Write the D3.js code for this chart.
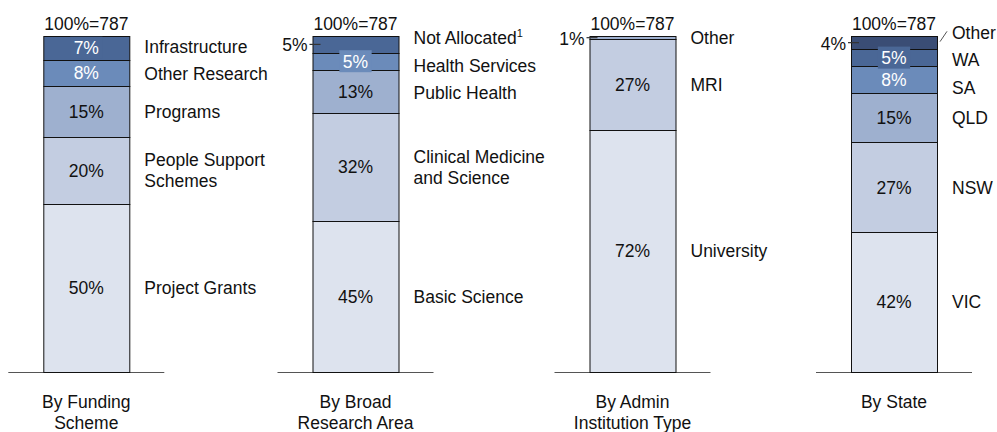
<!DOCTYPE html>
<html>
<head>
<meta charset="utf-8">
<script src="https://cdn.jsdelivr.net/npm/d3@7"></script>
<style>
	body { margin: 0; background: #fff; }
	text { font-family: "Liberation Sans", Arial, sans-serif; font-size: 17.5px; fill: #111; }
</style>
</head>
<body>
<script>
// chart data
var panelTitles = ['By Funding\nScheme', 'By Broad\nResearch Area', 'By Admin\nInstitution Type', 'By State'];
var panelTotals = [787, 787, 787, 787];

// segments listed bottom to top
var fundingLabels = ['Project Grants', 'People Support\nSchemes', 'Programs', 'Other Research', 'Infrastructure'];
var fundingValues = [50, 20, 15, 8, 7];

var areaLabels = ['Basic Science', 'Clinical Medicine\nand Science', 'Public Health', 'Health Services', 'Not Allocated¹'];
var areaValues = [45, 32, 13, 5, 5];

var institutionLabels = ['University', 'MRI', 'Other'];
var institutionValues = [72, 27, 1];

var stateLabels = ['VIC', 'NSW', 'QLD', 'SA', 'WA', 'Other'];
var stateValues = [42, 27, 15, 8, 5, 4];

var panels = [
	{labels: fundingLabels, values: fundingValues},
	{labels: areaLabels, values: areaValues},
	{labels: institutionLabels, values: institutionValues},
	{labels: stateLabels, values: stateValues}
];

var colors = ['#dde3ee', '#c3cde1', '#9eb0cf', '#6b8bba', '#4a6796', '#3a4d75'];

(function () {
	var width = 997, height = 432;
	var barWidth = 86;
	var barTop = 36, barBottom = 372;
	var lineHeight = 21.5;
	var labelGap = 6;

	var svg = d3.select('body').append('svg')
		.attr('width', width).attr('height', height);

	// panel centres (the slide spaces them a little unevenly)
	var x = d3.scaleOrdinal()
		.domain(panelTitles)
		.range([86.3, 355.5, 632.5, 894]);

	// writes a label line, turning a trailing footnote mark into a superscript
	function addLine(t, line, lx, dy) {
		var sup = line.match(/¹$/);
		var ts = t.append('tspan')
			.attr('x', lx)
			.attr('dy', dy)
			.text(sup ? line.slice(0, -1) : line);
		if (sup) {
			t.append('tspan')
				.style('font-size', '11px')
				.attr('dy', -7)
				.text('1');
			t.append('tspan').attr('dy', 7).text('');
		}
		return ts;
	}

	panels.forEach(function (panel, p) {
		var cx = x(panelTitles[p]);
		var left = cx - barWidth / 2, right = cx + barWidth / 2;
		var g = svg.append('g');

		var y = d3.scaleLinear()
			.domain([0, d3.sum(panel.values)])
			.range([barBottom, barTop]);

		var cum = d3.cumsum(panel.values);
		var segs = panel.values.map(function (v, i) {
			var y0 = y(cum[i] - v), y1 = y(cum[i]);
			return {
				i: i, v: v, label: panel.labels[i],
				top: y1, bottom: y0, mid: (y0 + y1) / 2,
				fill: colors[i],
				outside: i === panel.values.length - 1 && v <= 5
			};
		});

		// baseline
		g.append('line')
			.attr('x1', left - 35).attr('x2', right + 35)
			.attr('y1', barBottom + 0.5).attr('y2', barBottom + 0.5)
			.attr('stroke', '#555').attr('stroke-width', 1);

		// segments
		g.selectAll('rect.seg')
			.data(segs)
			.enter().append('rect')
			.attr('class', 'seg')
			.attr('x', left + 0.5)
			.attr('y', d => Math.round(d.top) + 0.5)
			.attr('width', barWidth)
			.attr('height', d => Math.round(d.bottom) - Math.round(d.top))
			.attr('fill', d => d.fill)
			.attr('stroke', '#111')
			.attr('stroke-width', 1);

		// value labels inside bar
		segs.filter(d => !d.outside).forEach(function (d) {
			var dark = d.i >= 3;
			var t = g.append('text')
				.attr('x', cx)
				.attr('y', d.mid + 6.3)
				.attr('text-anchor', 'middle')
				.style('fill', dark ? '#fff' : '#111')
				.text(d.v + '%');
			if (d.bottom - d.top < 24) {
				var w = t.node().getComputedTextLength() + 7;
				g.insert('rect', function () { return t.node(); })
					.attr('x', cx - w / 2)
					.attr('y', d.mid - 11)
					.attr('width', w)
					.attr('height', 22)
					.attr('fill', d.fill);
			}
		});

		// small top segment: value outside with leader
		segs.filter(d => d.outside).forEach(function (d) {
			g.append('line')
				.attr('x1', left - 3).attr('x2', left + 8)
				.attr('y1', d.mid).attr('y2', d.mid)
				.attr('stroke', '#333').attr('stroke-width', 1.2);
			g.append('text')
				.attr('x', left - 5)
				.attr('y', d.mid + 7)
				.attr('text-anchor', 'end')
				.text(d.v + '%');
		});

		// category labels, spread so they do not overlap
		var items = segs.slice().reverse().map(function (d) {
			var lines = d.label.split('\n');
			return {seg: d, lines: lines, h: lines.length * lineHeight + labelGap};
		});
		var blocks = [];
		items.forEach(function (it) {
			var b = {items: [it], size: it.h, start: it.seg.mid - it.h / 2};
			blocks.push(b);
			while (blocks.length > 1) {
				var prev = blocks[blocks.length - 2], cur = blocks[blocks.length - 1];
				if (prev.start + prev.size <= cur.start) break;
				var merged = {items: prev.items.concat(cur.items), size: 0, start: 0};
				var offset = 0, sum = 0;
				merged.items.forEach(function (m) {
					sum += m.seg.mid - offset - m.h / 2;
					offset += m.h;
				});
				merged.size = offset;
				merged.start = sum / merged.items.length;
				blocks.splice(blocks.length - 2, 2, merged);
			}
		});
		var labelX = right + 15;
		blocks.forEach(function (b) {
			var offset = 0;
			b.items.forEach(function (it) {
				var c = b.start + offset + it.h / 2;
				offset += it.h;
				var t = g.append('text')
					.attr('x', labelX)
					.attr('y', c - (it.lines.length - 1) * lineHeight / 2 + 6.3);
				it.lines.forEach(function (line, k) {
					addLine(t, line, labelX, k === 0 ? 0 : lineHeight);
				});
				if (Math.abs(c - it.seg.mid) > 9) {
					g.append('line')
						.attr('x1', right + 3).attr('y1', it.seg.mid - 1)
						.attr('x2', labelX - 5).attr('y2', c - 1)
						.attr('stroke', '#555').attr('stroke-width', 1);
				}
			});
		});

		// total above bar
		g.append('text')
			.attr('x', cx)
			.attr('y', 29.5)
			.attr('text-anchor', 'middle')
			.text('100%=' + panelTotals[p]);

		// panel title below
		var title = g.append('text')
			.attr('x', cx)
			.attr('y', 407.5)
			.attr('text-anchor', 'middle');
		panelTitles[p].split('\n').forEach(function (line, k) {
			title.append('tspan')
				.attr('x', cx)
				.attr('dy', k === 0 ? 0 : lineHeight)
				.text(line);
		});
	});
})();
</script>
</body>
</html>
